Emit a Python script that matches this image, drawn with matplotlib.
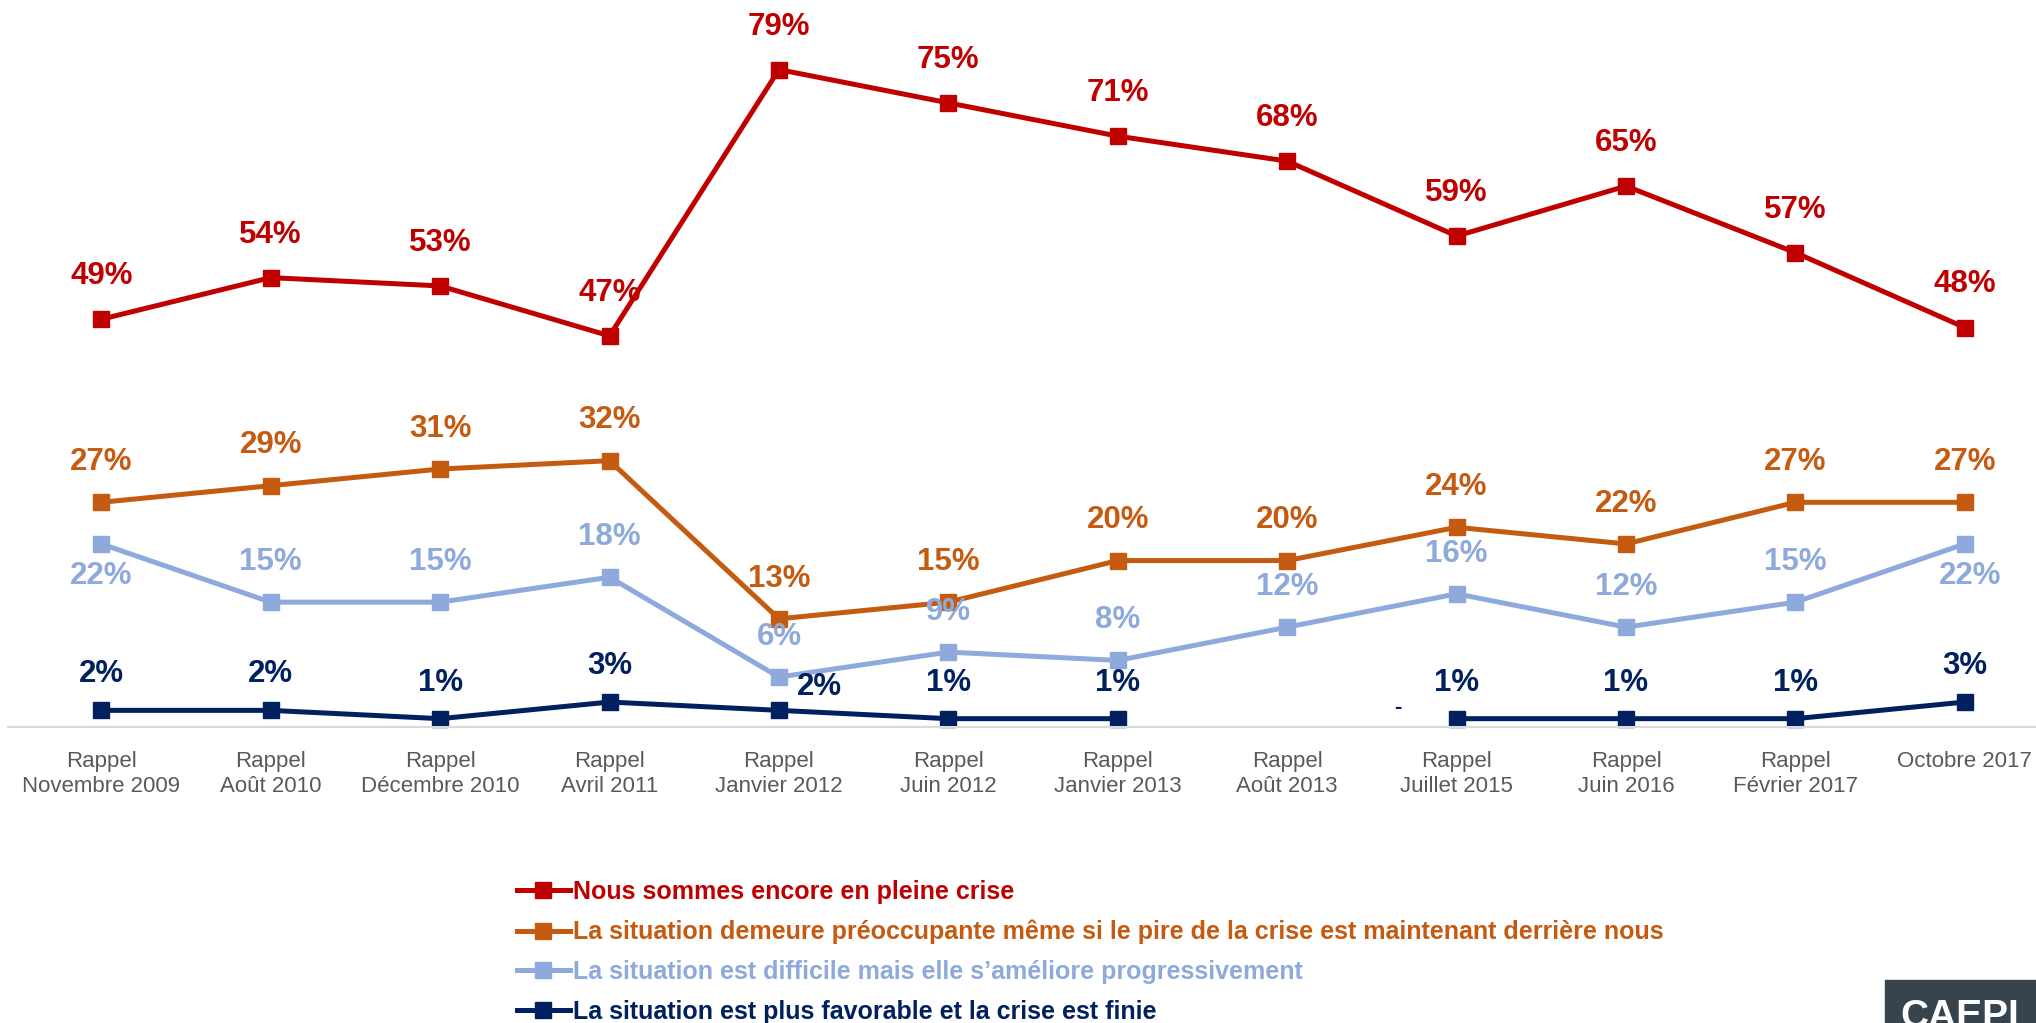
import numpy as np
import matplotlib
matplotlib.use("Agg")
import matplotlib.pyplot as plt
from matplotlib.patches import Rectangle

plt.rcParams['font.family'] = ['Liberation Sans', 'DejaVu Sans']

# data
periods = ["Rappel\nNovembre 2009", "Rappel\nAoût 2010", "Rappel\nDécembre 2010",
           "Rappel\nAvril 2011", "Rappel\nJanvier 2012", "Rappel\nJuin 2012",
           "Rappel\nJanvier 2013", "Rappel\nAoût 2013", "Rappel\nJuillet 2015",
           "Rappel\nJuin 2016", "Rappel\nFévrier 2017", "Octobre 2017"]

pleine_crise = [49, 54, 53, 47, 79, 75, 71, 68, 59, 65, 57, 48]
preoccupante = [27, 29, 31, 32, 13, 15, 20, 20, 24, 22, 27, 27]
difficile = [22, 15, 15, 18, 6, 9, 8, 12, 16, 12, 15, 22]
favorable = [2, 2, 1, 3, 2, 1, 1, np.nan, 1, 1, 1, 3]

labels = ["Nous sommes encore en pleine crise",
          "La situation demeure préoccupante même si le pire de la crise est maintenant derrière nous",
          "La situation est difficile mais elle s\u2019améliore progressivement",
          "La situation est plus favorable et la crise est finie"]

colors = ["#C00000", "#C55A11", "#8EA9DB", "#002060"]

# label offsets (points)
off_red = [(0, 31)] * 12
off_orange = [(0, 29)] * 12
off_blue = [(0, -23)] + [(0, 29)] * 10 + [(4, -23)]
off_navy = [(0, 26)] * 4 + [(29, 17)] + [(0, 26)] * 7

W, H = 2036, 1023
fig = plt.figure(figsize=(W / 100, H / 100), dpi=100)
ax = fig.add_axes([0.004, 1 - 727 / H, 0.996, 724 / H])

x = np.arange(len(periods))
series = [pleine_crise, preoccupante, difficile, favorable]
offsets = [off_red, off_orange, off_blue, off_navy]

for vals, col, lab, offs in zip(series, colors, labels, offsets):
    ax.plot(x, vals, color=col, lw=3.6, marker='s', markersize=11, label=lab,
            solid_joinstyle='miter', clip_on=False)
    for xi, v, o in zip(x, vals, offs):
        if np.isnan(v):
            continue
        ax.annotate(f"{int(v)}%", (xi, v), xytext=o, textcoords='offset points',
                    ha='center', va='center', color=col, fontsize=22.5,
                    fontweight='bold')

# missing value marker for Août 2013
ax.text(7.65, 2.3, "-", color=colors[3], fontsize=16, fontweight='bold',
        ha='center', va='center')

ax.set_xlim(-0.55, 11.42)
ax.set_ylim(0, 87)
ax.set_yticks([])
for s in ['top', 'right', 'left']:
    ax.spines[s].set_visible(False)
ax.spines['bottom'].set_color('#D9D9D9')
ax.spines['bottom'].set_linewidth(1.5)
ax.set_xticks(x)
ax.set_xticklabels(periods, fontsize=16, color='#595959', linespacing=1.3,
                   va='top')
ax.tick_params(axis='x', length=0, pad=17)

leg = fig.legend(loc='upper left', bbox_to_anchor=(517 / W, 1 - 880 / H),
                 frameon=False, handlelength=2.1,
                 handletextpad=0.15, labelspacing=0.63, borderpad=0,
                 borderaxespad=0, labelcolor='linecolor',
                 prop={'weight': 'bold', 'size': 18})

# logo block at bottom right
fig.patches.append(Rectangle((1885 / W, 0), (W - 1885) / W, 43 / H,
                             transform=fig.transFigure, color='#37434D'))
fig.text(1900 / W, -12 / H, "CAEPI", color='white', fontsize=28,
         fontweight='bold', ha='left', va='bottom')

fig.savefig("out.png", dpi=100)
